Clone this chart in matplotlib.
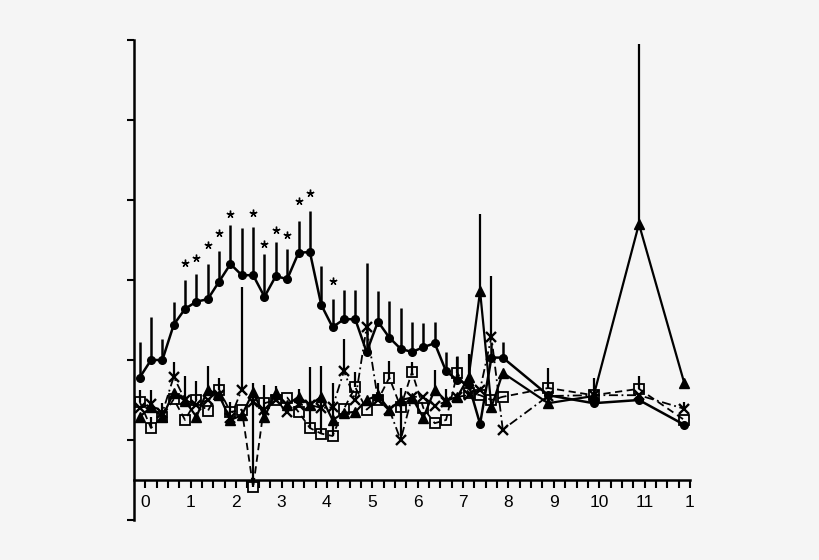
import numpy as np
import matplotlib.pyplot as plt

# x positions (hours), one per sample
hours = [-0.125, 0.125, 0.375, 0.625, 0.875, 1.125, 1.375, 1.625, 1.875,
         2.125, 2.375, 2.625, 2.875, 3.125, 3.375, 3.625, 3.875, 4.125,
         4.375, 4.625, 4.875, 5.125, 5.375, 5.625, 5.875, 6.125, 6.375,
         6.625, 6.875, 7.125, 7.375, 7.625, 7.875, 8.875, 9.875, 10.875, 11.875]

# filled circles, solid line
circ_mean = [1.78, 2.00, 2.00, 2.44, 2.64, 2.73, 2.76, 2.98, 3.20, 3.06, 3.06, 2.79,
             3.05, 3.01, 3.34, 3.35, 2.69, 2.41, 2.51, 2.51, 2.10, 2.48, 2.28, 2.14,
             2.10, 2.16, 2.21, 1.86, 1.75, 1.69, 1.20, 2.03, 2.03, 1.56, 1.46, 1.50, 1.19]
circ_err = [0.45, 0.54, 0.26, 0.29, 0.36, 0.35, 0.44, 0.38, 0.49, 0.59, 0.60, 0.53,
            0.43, 0.38, 0.40, 0.51, 0.49, 0.35, 0.36, 0.36, 1.11, 0.38, 0.46, 0.51,
            0.38, 0.30, 0.26, 0.24, 0.30, 0.39, 0.00, 0.20, 0.19, 0.00, 0.00, 0.00, 0.00]

# filled triangles, solid line
tri_mean = [1.29, 1.41, 1.29, 1.59, 1.49, 1.29, 1.63, 1.56, 1.25, 1.31, 1.60, 1.29,
            1.59, 1.44, 1.54, 1.44, 1.54, 1.25, 1.34, 1.35, 1.50, 1.56, 1.38, 1.50,
            1.53, 1.28, 1.63, 1.49, 1.54, 1.79, 2.86, 1.41, 1.84, 1.46, 1.55, 3.70, 1.71]
tri_err = [0.00, 0.21, 0.17, 0.00, 0.00, 0.00, 0.30, 0.00, 0.23, 0.00, 0.11, 0.40,
           0.08, 0.00, 0.10, 0.00, 0.00, 0.00, 0.00, 0.00, 0.00, 0.15, 0.00, 0.00,
           0.00, 0.00, 0.25, 0.15, 0.00, 0.29, 0.97, 0.00, 0.00, 0.00, 0.00, 2.25, 0.00]

# crosses, dash-dot line
cross_mean = [1.40, 1.45, 1.34, 1.79, 1.50, 1.44, 1.50, 1.56, 1.28, 1.63, 1.48, 1.38,
              1.50, 1.35, 1.44, 1.44, 1.40, 1.41, 1.86, 1.50, 2.41, 1.50, 1.38, 1.00,
              1.54, 1.54, 1.43, 1.48, 1.54, 1.56, 1.63, 2.29, 1.13, 1.55, 1.56, 1.56, 1.39]
cross_err = [0.00, 0.00, 0.00, 0.19, 0.30, 0.00, 0.00, 0.00, 0.00, 1.28, 0.00, 0.00,
             0.00, 0.00, 0.00, 0.00, 0.00, 0.00, 0.40, 0.00, 0.00, 0.00, 0.00, 0.65,
             0.00, 0.00, 0.00, 0.00, 0.00, 0.00, 0.00, 0.76, 0.00, 0.00, 0.00, 0.00, 0.08]

# open squares, dashed line
sq_mean = [1.48, 1.15, 1.29, 1.51, 1.25, 1.50, 1.36, 1.63, 1.35, 1.38, 0.41, 1.46,
           1.50, 1.53, 1.35, 1.15, 1.08, 1.05, 1.39, 1.66, 1.38, 1.50, 1.78, 1.41,
           1.85, 1.40, 1.21, 1.25, 1.84, 1.59, 1.56, 1.50, 1.54, 1.65, 1.56, 1.64, 1.25]
sq_err = [0.15, 0.14, 0.00, 0.00, 0.00, 0.24, 0.00, 0.14, 0.00, 0.00, 1.17, 0.00,
          0.00, 0.00, 0.00, 0.76, 0.85, 0.66, 0.00, 0.19, 0.00, 0.00, 0.21, 0.00,
          0.12, 0.00, 0.00, 0.00, 0.20, 0.00, 0.00, 0.00, 0.00, 0.25, 0.22, 0.16, 0.00]

# significance stars
star_x = [0.875, 1.125, 1.375, 1.625, 1.875, 2.375, 2.625, 2.875, 3.125, 3.375, 3.625, 4.125]
star_y = [3.21, 3.28, 3.44, 3.59, 3.83, 3.84, 3.45, 3.63, 3.56, 3.99, 4.09, 2.99]

xtick_pos = [0, 1, 2, 3, 4, 5, 6, 7, 8, 9, 10, 11, 12]
xtick_labels = ['0', '1', '2', '3', '4', '5', '6', '7', '8', '9', '10', '11', '1']

plt.rcParams['font.family'] = ['Liberation Sans', 'DejaVu Sans']
bg = '#f5f5f5'

fig = plt.figure(figsize=(8.2, 5.6), dpi=100, facecolor=bg)
ax = fig.add_axes([134 / 820, 40 / 560, 556 / 820, 480 / 560], facecolor=bg)

def upper(err):
    return [np.zeros(len(err)), err]

ax.errorbar(hours, sq_mean, yerr=upper(sq_err), fmt='s', ls=(0, (4, 2.5)), lw=1.3,
            color='black', mfc='none', mew=1.3, ms=7.5, elinewidth=1.6, capsize=0,
            clip_on=False, zorder=3)
ax.errorbar(hours, cross_mean, yerr=upper(cross_err), fmt='x', ls=(0, (5, 2, 1, 2)), lw=1.3,
            color='black', mew=1.7, ms=7, elinewidth=1.6, capsize=0, zorder=3)
ax.errorbar(hours, tri_mean, yerr=upper(tri_err), fmt='^', ls='-', lw=1.6,
            color='black', ms=7.5, elinewidth=1.6, capsize=0, zorder=4)
ax.errorbar(hours, circ_mean, yerr=upper(circ_err), fmt='o', ls='-', lw=1.8,
            color='black', ms=5.5, elinewidth=1.8, capsize=0, zorder=5)

ax.plot(star_x, star_y, ls='none', marker=(5, 2, 0), ms=5.5, mew=1.0, color='black')

ax.set_xlim(-0.25, 12.0)
ax.set_ylim(0, 6)

for s in ['top', 'right']:
    ax.spines[s].set_visible(False)
ax.spines['left'].set_linewidth(1.8)
ax.spines['bottom'].set_linewidth(1.8)
ax.spines['bottom'].set_position(('data', 0.5))
ax.spines['left'].set_bounds(0, 6)

ax.set_yticks([0, 1, 2, 3, 4, 5, 6])
ax.set_yticklabels([])
ax.tick_params(axis='y', direction='out', length=5, width=1.5)

ax.set_xticks(xtick_pos)
ax.set_xticklabels(xtick_labels, fontsize=12.5)
ax.set_xticks(np.arange(0, 12.01, 0.25), minor=True)
ax.tick_params(axis='x', which='both', direction='out', length=6, width=1.5, pad=5)

fig.savefig('out.png', dpi=100, facecolor=bg)
